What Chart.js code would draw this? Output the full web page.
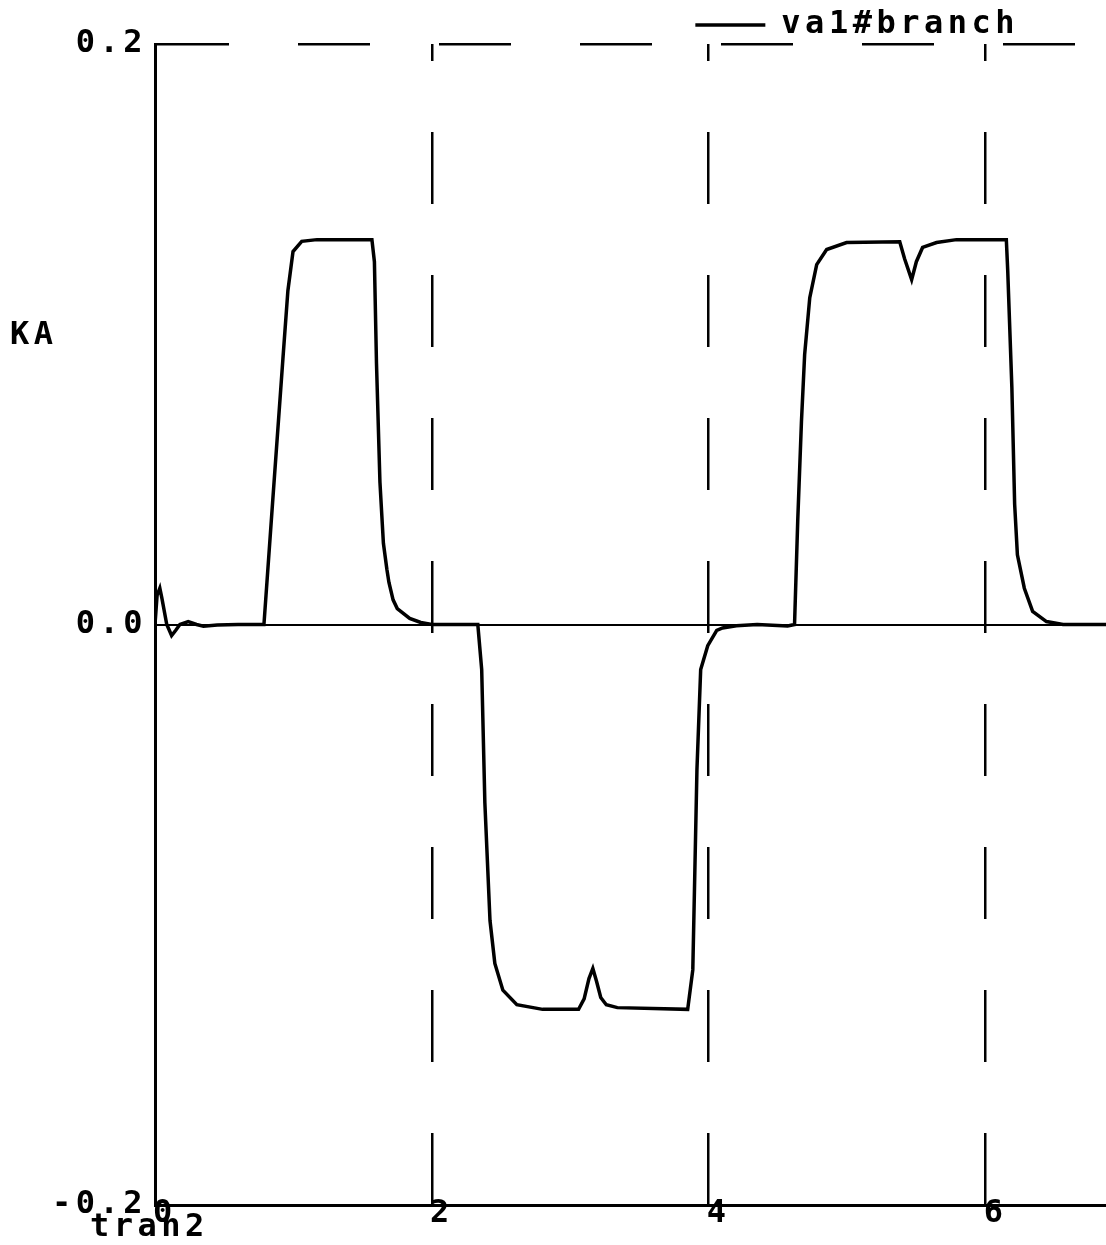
<!DOCTYPE html>
<html>
<head>
<meta charset="utf-8">
<script src="https://cdn.jsdelivr.net/npm/chart.js@4/dist/chart.umd.min.js"></script>
<style>html,body{margin:0;padding:0;background:#fff;}canvas{display:block;}</style>
</head>
<body>
<canvas id="c" width="1106" height="1245"></canvas>
<script>
// ---- data (time in x-units, current in KA) ----
const settleT = [0, 0.015, 0.035, 0.05, 0.085, 0.12, 0.15, 0.18, 0.24, 0.3, 0.35, 0.45, 0.6, 0.787];
const settleV = [0, 0.010, 0.0125, 0.009, 0, -0.0038, -0.002, 0, 0.001, 0, -0.0006, -0.0002, 0, 0];

const pulse1T = [0.852, 0.924, 0.96, 0.997, 1.06, 1.17, 1.567, 1.585, 1.60, 1.625, 1.65, 1.675, 1.69, 1.72, 1.75, 1.84, 1.92, 2.0, 2.332];
const pulse1V = [0.0437, 0.0915, 0.115, 0.1285, 0.132, 0.1326, 0.1326, 0.125, 0.09, 0.049, 0.028, 0.019, 0.0145, 0.0085, 0.0055, 0.0021, 0.0007, 0, 0];

const pulse2T = [2.36, 2.383, 2.42, 2.455, 2.513, 2.614, 2.80, 3.06, 3.10, 3.135, 3.163, 3.19, 3.22, 3.26, 3.34, 3.848, 3.885, 3.90, 3.915, 3.942, 3.993, 4.058, 4.1, 4.2, 4.35, 4.57, 4.62];
const pulse2V = [-0.0155, -0.0615, -0.102, -0.1168, -0.126, -0.131, -0.1326, -0.1326, -0.129, -0.122, -0.1185, -0.123, -0.1285, -0.131, -0.132, -0.1326, -0.119, -0.0846, -0.05, -0.0155, -0.0073, -0.002, -0.0012, -0.0004, 0, -0.0005, 0];

const pulse3T = [4.643, 4.67, 4.693, 4.73, 4.78, 4.852, 4.996, 5.38, 5.415, 5.466, 5.50, 5.545, 5.646, 5.79, 6.15, 6.16, 6.19, 6.21, 6.23, 6.28, 6.34, 6.44, 6.56, 6.87];
const pulse3V = [0.0356, 0.070, 0.093, 0.1126, 0.124, 0.1292, 0.1316, 0.1319, 0.126, 0.1188, 0.125, 0.1299, 0.1316, 0.1326, 0.1326, 0.122, 0.0816, 0.0415, 0.024, 0.0125, 0.0045, 0.001, 0, 0];

const seriesLabel = 'va1#branch';
const xTickValues = [0, 2, 4, 6];
const xTickLabels = ['0', '2', '4', '6'];
const yTickValues = [-0.2, 0, 0.2];
const yTickLabels = ['-0.2', '0.0', '0.2'];
const xAxisTitle = 'tran2';
const yAxisTitle = 'KA';
const xMin = 0, xMax = 6.87, xStep = 2;
const yMin = -0.2, yMax = 0.2, yStep = 0.2;

// ---- build ----
const tValues = [].concat(settleT, pulse1T, pulse2T, pulse3T);
const vValues = [].concat(settleV, pulse1V, pulse2V, pulse3V);
const points = tValues.map((t, i) => ({x: t, y: vValues[i]}));

const FONT = '"DejaVu Sans Mono", "Liberation Mono", monospace';
const LS = '4.5px';

function labelFor(values, labels, v) {
  for (let i = 0; i < values.length; i++) if (Math.abs(values[i] - v) < 1e-9) return labels[i];
  return '';
}

const spacing = {
  id: 'spacing',
  beforeUpdate(chart) { chart.ctx.letterSpacing = LS; },
  beforeDraw(chart) { chart.ctx.letterSpacing = LS; }
};
const legendPlace = {
  id: 'legendPlace',
  afterLayout(chart) {
    const l = chart.legend; if (!l) return;
    const h = l.height;
    l.top = 7; l.bottom = 7 + h; l.right = 1021;
  }
};
const axisTitles = {
  id: 'axisTitles',
  afterDraw(chart) {
    const ctx = chart.ctx;
    ctx.save();
    ctx.letterSpacing = LS;
    ctx.font = 'bold 32px ' + FONT;
    ctx.fillStyle = '#000';
    ctx.textAlign = 'left';
    ctx.textBaseline = 'alphabetic';
    ctx.fillText(xAxisTitle, 90, 1236);
    ctx.fillText(yAxisTitle, 10, 344);
    ctx.restore();
  }
};

Chart.defaults.color = '#000';

new Chart(document.getElementById('c'), {
  type: 'line',
  data: {
    datasets: [{
      label: seriesLabel,
      data: points,
      borderColor: '#000',
      backgroundColor: '#000',
      borderWidth: 3.5,
      pointRadius: 0,
      tension: 0,
      fill: false
    }]
  },
  options: {
    responsive: false,
    animation: false,
    devicePixelRatio: 1,
    layout: {padding: 0},
    plugins: {
      legend: {
        display: true,
        position: 'top',
        align: 'end',
        labels: {
          color: '#000',
          font: {family: FONT, size: 32, weight: 'bold'},
          usePointStyle: true,
          pointStyle: 'line',
          pointStyleWidth: 70,
          boxHeight: 4,
          padding: 2
        }
      },
      tooltip: {enabled: false}
    },
    scales: {
      x: {
        type: 'linear',
        min: xMin,
        max: xMax,
        afterFit(s) { s.height = 40; },
        ticks: {
          stepSize: xStep,
          includeBounds: false,
          autoSkip: false,
          maxRotation: 0,
          mirror: true,
          padding: -28,
          labelOffset: 10,
          font: {family: FONT, size: 32, weight: 'bold'},
          color: '#000',
          callback: (v) => labelFor(xTickValues, xTickLabels, v)
        },
        grid: {
          color: '#000',
          lineWidth: (c) => (c.tick && Math.abs(c.tick.value) < 1e-9) ? 0 : 2.5,
          drawTicks: false
        },
        border: {display: true, color: '#000', width: 3, dash: [72, 71], dashOffset: 55}
      },
      y: {
        min: yMin,
        max: yMax,
        afterFit(s) { s.width = 155; },
        ticks: {
          stepSize: yStep,
          padding: 8,
          font: {family: FONT, size: 32, weight: 'bold'},
          color: '#000',
          callback: (v) => labelFor(yTickValues, yTickLabels, v)
        },
        grid: {
          color: '#000',
          lineWidth: (c) => (c.tick && c.tick.value < -0.1) ? 0 : (c.tick && c.tick.value > 0.1 ? 2.5 : 2),
          drawTicks: false
        },
        border: {
          display: true, color: '#000', width: 3,
          dash: (c) => (c.tick && c.tick.value > 0.1) ? [72, 69] : [],
          dashOffset: 0
        }
      }
    }
  },
  plugins: [spacing, legendPlace, axisTitles]
});
</script>
</body>
</html>
